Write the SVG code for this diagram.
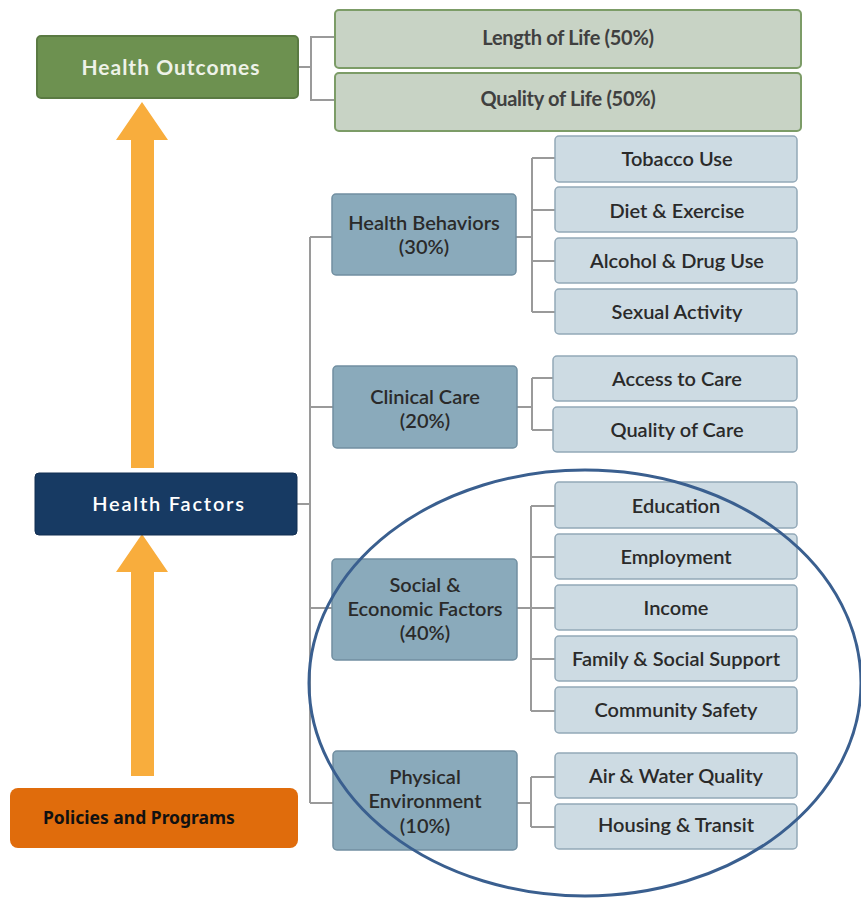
<svg xmlns="http://www.w3.org/2000/svg" width="861" height="898" viewBox="0 0 861 898">
<style>
.t{font-family:Lato,"Open Sans","Liberation Sans",sans-serif;text-anchor:middle}
.leaf rect{fill:#cddbe3;stroke:#93a9b8;stroke-width:1.5}
.leaf text{font-size:20px;font-weight:600;fill:#2a2a2a}
.mid rect{fill:#8aaabb;stroke:#718fa1;stroke-width:1.5}
.mid text{font-size:20px;font-weight:600;fill:#2a2a2a}
.out rect{fill:#c8d3c5;stroke:#7c9c67;stroke-width:2}
.out text{font-size:20px;font-weight:700;fill:#404040;letter-spacing:-0.3px}
.con path{fill:none;stroke:#9a9a9a;stroke-width:2}
.arrow{fill:#f8ad3d}
</style>
<rect width="861" height="898" fill="#ffffff"/>
<g class="con">
<path d="M298 67H311M311 36V101M311 37H334M311 100H334"/>
<path d="M297 504H310M310 237V803M310 237H332M310 407H333M310 608H332M310 803H333"/>
<path d="M516 237H532M532 158V312M532 158H555M532 210H555M532 261H555M532 312H555"/>
<path d="M517 407H532M532 378V430M532 378H553M532 430H553"/>
<path d="M517 608H531M531 506V711M531 506H555M531 557H555M531 608H555M531 659H555M531 711H555"/>
<path d="M517 803H531M531 777V827M531 777H555M531 827H555"/>
</g>
<g id="arrows">
<path class="arrow" d="M142 102L168 140H154V468H131V140H116Z"/>
<path class="arrow" d="M142 534L168 572H154V776H131V572H116Z"/>
</g>
<g id="health-outcomes">
<rect x="37" y="36" width="261" height="62" rx="4" fill="#6d9150" stroke="#5a7a42" stroke-width="2"/>
<text class="t" x="171" y="75" font-size="21" font-weight="700" fill="#eef2e8" letter-spacing="1">Health Outcomes</text>
</g>
<g id="length-of-life" class="out">
<rect x="335" y="10" width="466" height="58" rx="4"/>
<text class="t" x="568" y="45">Length of Life (50%)</text>
</g>
<g id="quality-of-life" class="out">
<rect x="335" y="73" width="466" height="58" rx="4"/>
<text class="t" x="568" y="106">Quality of Life (50%)</text>
</g>
<g id="health-factors">
<rect x="35" y="473" width="262" height="62" rx="4" fill="#173a63" stroke="#122f52" stroke-width="1"/>
<text class="t" x="169" y="511" font-size="20" font-weight="600" fill="#ffffff" letter-spacing="1.8">Health Factors</text>
</g>
<g id="policies">
<rect x="10" y="788" width="288" height="60" rx="8" fill="#e06c0c"/>
<text x="43" y="824" font-family="'Noto Sans','Open Sans','Liberation Sans',sans-serif" font-size="17.5" font-weight="700" fill="#111111">Policies and Programs</text>
</g>
<g id="health-behaviors" class="mid">
<rect x="332" y="194" width="184" height="81" rx="4"/>
<text class="t" x="424" y="230">Health Behaviors</text>
<text class="t" x="424" y="254">(30%)</text>
</g>
<g id="clinical-care" class="mid">
<rect x="333" y="366" width="184" height="82" rx="4"/>
<text class="t" x="425" y="404">Clinical Care</text>
<text class="t" x="425" y="428">(20%)</text>
</g>
<g id="social-economic" class="mid">
<rect x="332" y="559" width="185" height="101" rx="4"/>
<text class="t" x="425" y="592">Social &amp;</text>
<text class="t" x="425" y="616">Economic Factors</text>
<text class="t" x="425" y="640">(40%)</text>
</g>
<g id="physical-environment" class="mid">
<rect x="333" y="751" width="184" height="99" rx="4"/>
<text class="t" x="425" y="784">Physical</text>
<text class="t" x="425" y="808">Environment</text>
<text class="t" x="425" y="833">(10%)</text>
</g>
<g id="tobacco" class="leaf"><rect x="555" y="136" width="242" height="46" rx="4"/><text class="t" x="677" y="166">Tobacco Use</text></g>
<g id="diet" class="leaf"><rect x="555" y="187" width="242" height="45" rx="4"/><text class="t" x="677" y="218">Diet &amp; Exercise</text></g>
<g id="alcohol" class="leaf"><rect x="555" y="238" width="242" height="45" rx="4"/><text class="t" x="677" y="268">Alcohol &amp; Drug Use</text></g>
<g id="sexual" class="leaf"><rect x="555" y="289" width="242" height="45" rx="4"/><text class="t" x="677" y="319">Sexual Activity</text></g>
<g id="access" class="leaf"><rect x="553" y="356" width="244" height="45" rx="4"/><text class="t" x="677" y="386">Access to Care</text></g>
<g id="quality-care" class="leaf"><rect x="553" y="407" width="244" height="45" rx="4"/><text class="t" x="677" y="437">Quality of Care</text></g>
<g id="education" class="leaf"><rect x="555" y="482" width="242" height="46" rx="4"/><text class="t" x="676" y="513">Education</text></g>
<g id="employment" class="leaf"><rect x="555" y="534" width="242" height="45" rx="4"/><text class="t" x="676" y="564">Employment</text></g>
<g id="income" class="leaf"><rect x="555" y="585" width="242" height="45" rx="4"/><text class="t" x="676" y="615">Income</text></g>
<g id="family" class="leaf"><rect x="555" y="636" width="242" height="45" rx="4"/><text class="t" x="676" y="666">Family &amp; Social Support</text></g>
<g id="community" class="leaf"><rect x="555" y="687" width="242" height="46" rx="4"/><text class="t" x="676" y="717">Community Safety</text></g>
<g id="air-water" class="leaf"><rect x="555" y="753" width="242" height="45" rx="4"/><text class="t" x="676" y="783">Air &amp; Water Quality</text></g>
<g id="housing" class="leaf"><rect x="555" y="804" width="242" height="45" rx="4"/><text class="t" x="676" y="832">Housing &amp; Transit</text></g>
<ellipse cx="585" cy="683" rx="276" ry="213" fill="none" stroke="#3a5f8f" stroke-width="3"/>
</svg>
